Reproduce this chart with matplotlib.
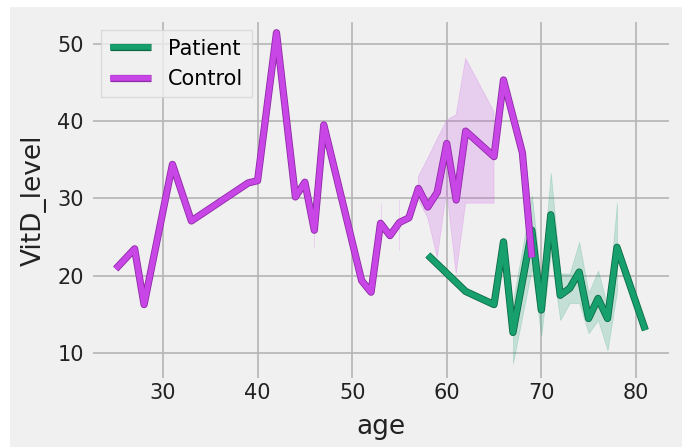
import numpy as np
import matplotlib
matplotlib.use("Agg")
import matplotlib.pyplot as plt
import matplotlib.patheffects as pe
from matplotlib.patches import Rectangle

nan = np.nan

# Control group: mean VitD_level per age, with CI band (nan = no band)
control_age = [25, 27, 28, 31, 33, 39, 40, 42, 44, 45, 46, 47, 51, 52, 53, 54,
               55, 56, 57, 58, 59, 60, 61, 62, 65, 66, 68, 69]
control_vitd = [20.9, 23.5, 16.3, 34.4, 27.1, 32.0, 32.3, 51.4, 30.2, 32.1, 25.9,
                39.5, 19.4, 17.9, 26.8, 25.2, 26.9, 27.5, 31.3, 28.9, 30.8, 37.1,
                29.8, 38.7, 35.4, 45.3, 35.9, 22.4]
control_lo = [nan, nan, nan, nan, nan, nan, nan, nan, nan, nan, 23.7, nan, nan, nan,
              25.5, nan, 23.3, nan, 29.8, 27.5, 22.4, 31.0, 20.3, 29.4, 29.4, nan, nan, nan]
control_hi = [nan, nan, nan, nan, nan, nan, nan, nan, nan, nan, 28.0, nan, nan, nan,
              29.4, nan, 29.8, nan, 32.8, 35.2, 37.7, 40.1, 40.8, 48.1, 41.2, nan, nan, nan]

# Patient group
patient_age = [58, 62, 65, 66, 67, 69, 70, 71, 72, 73, 74, 75, 76, 77, 78, 81]
patient_vitd = [22.7, 18.0, 16.3, 24.4, 12.7, 25.9, 15.6, 27.9, 17.5, 18.4, 20.5,
                14.5, 17.1, 14.5, 23.7, 13.0]
patient_lo = [nan, nan, nan, nan, 8.7, 21.0, 12.3, 23.0, 14.3, 16.5, 16.5, 12.6,
              14.3, 10.4, 18.0, nan]
patient_hi = [nan, nan, nan, nan, 16.7, 30.4, 19.0, 33.3, 20.3, 20.3, 24.4, 17.8,
              20.7, 16.0, 29.5, nan]

green = "#17a06e"
purple = "#c846e6"
bg = "#f0f0f0"

plt.style.use("fivethirtyeight")
fig = plt.figure(figsize=(6.86, 4.47), dpi=100, facecolor="white")
# grey card with a thin white margin at top / left / right
fig.patches.append(Rectangle((10 / 686, 0), 672 / 686, 440 / 447,
                             transform=fig.transFigure, facecolor=bg,
                             edgecolor="none", zorder=-10))

ax = fig.add_axes([93 / 686, 0.154, 576 / 686, 0.797])
ax.set_facecolor(bg)

ax.fill_between(patient_age, patient_lo, patient_hi, color=green, alpha=0.2, linewidth=0.6)
ax.fill_between(control_age, control_lo, control_hi, color=purple, alpha=0.2, linewidth=0.6)

ax.plot(patient_age, patient_vitd, color=green, lw=4, label="Patient",
        path_effects=[pe.Stroke(linewidth=5.2, foreground="#0b6a45"), pe.Normal()])
ax.plot(control_age, control_vitd, color=purple, lw=4, label="Control",
        path_effects=[pe.Stroke(linewidth=5.2, foreground="#8e2aa6"), pe.Normal()])

ax.set_xlim(22.6, 83.5)
ax.set_ylim(6.8, 52.8)
ax.set_xticks([30, 40, 50, 60, 70, 80])
ax.set_yticks([10, 20, 30, 40, 50])
ax.grid(True, color="#b4b4b4", lw=1.2)
ax.tick_params(labelsize=15, colors="#222222", length=0)
ax.tick_params(axis="y", pad=6.5)
for s in ax.spines.values():
    s.set_visible(False)

ax.set_xlabel("age", fontsize=19, color="#222222", labelpad=8)
ax.set_ylabel("VitD_level", fontsize=19, color="#222222", labelpad=7.5)

leg = ax.legend(loc="upper left", fontsize=15, frameon=True, fancybox=False,
                handlelength=2.0, borderaxespad=0.4)
leg.get_frame().set_facecolor(bg)
leg.get_frame().set_edgecolor("#d6d6d6")
leg.get_frame().set_linewidth(1.0)

fig.savefig("out.png", dpi=100, facecolor=fig.get_facecolor())
